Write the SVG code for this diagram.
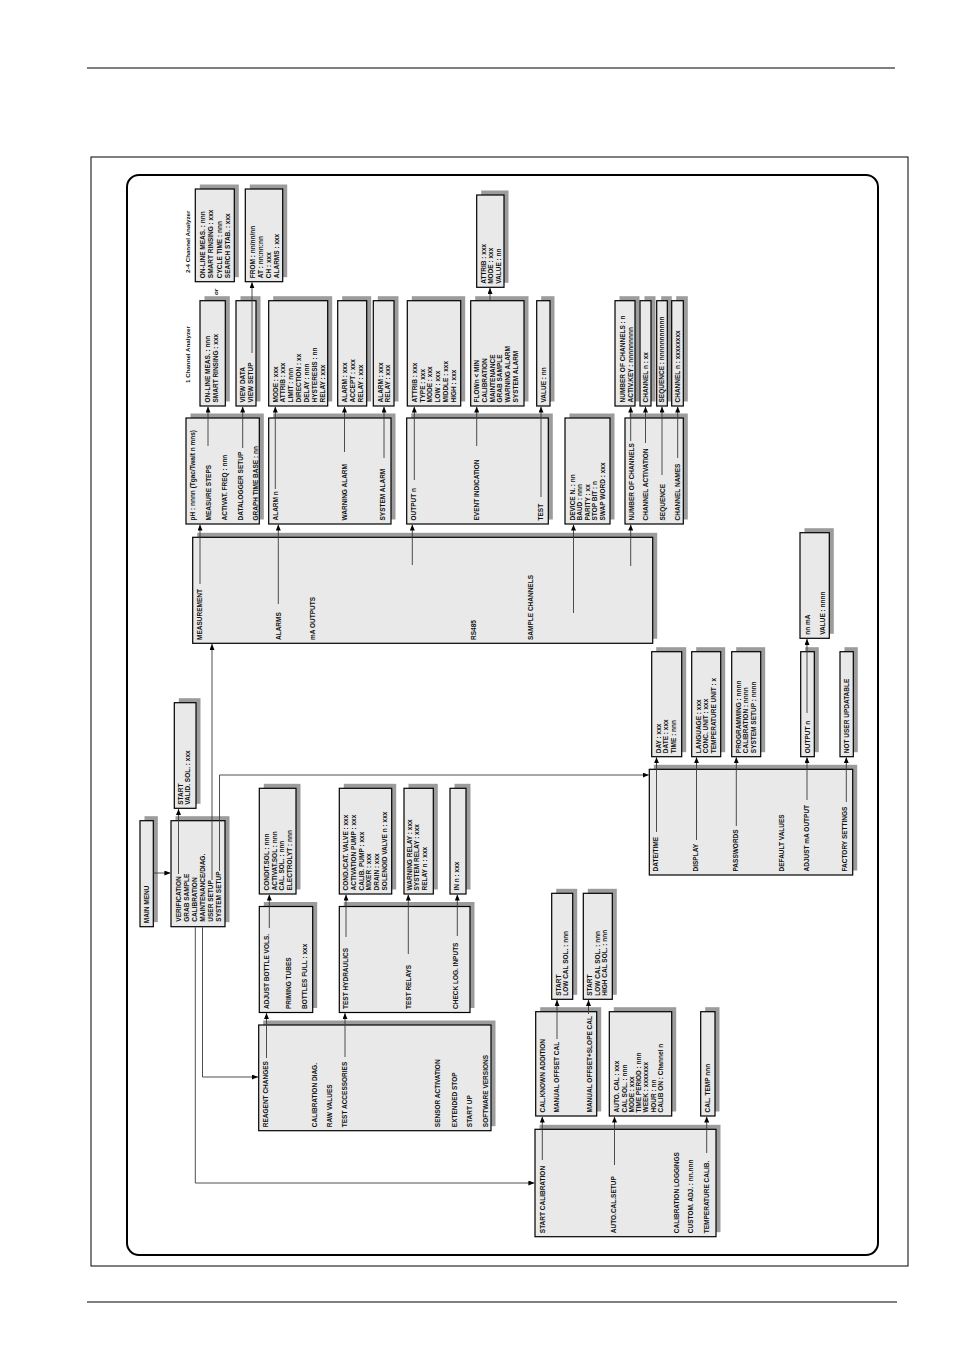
<svg xmlns="http://www.w3.org/2000/svg" width="954" height="1350" viewBox="0 0 954 1350">
<defs>
<marker id="ah" viewBox="0 0 6 5" refX="6" refY="2.5" markerWidth="6" markerHeight="5" markerUnits="userSpaceOnUse" orient="auto"><path d="M0,0 L6,2.5 L0,5 z" fill="#000"/></marker>
</defs>
<style>
.s{fill:#9c9c9c}
.b{fill:#e9e9e9;stroke:#000;stroke-width:1.2}
.t{font-family:"Liberation Sans",Arial,sans-serif;font-size:6.5px;font-weight:bold;fill:#111}
.l{font-family:"Liberation Sans",Arial,sans-serif;font-size:6.2px;font-weight:bold;fill:#111}
.c{fill:none;stroke:#3a3a3a;stroke-width:0.9;marker-end:url(#ah)}
</style>
<rect width="954" height="1350" fill="#fff"/>
<line x1="87" y1="68" x2="895" y2="68" stroke="#000" stroke-width="1"/>
<line x1="87" y1="1302" x2="897" y2="1302" stroke="#000" stroke-width="1"/>
<rect x="91" y="157" width="817" height="1109" fill="none" stroke="#000" stroke-width="1"/>
<rect x="127" y="175" width="751" height="1080" rx="12" fill="none" stroke="#000" stroke-width="2"/>

<text class="l" transform="translate(190.3,273) rotate(-90)">2-4 Channel Analyzer</text>
<text class="l" transform="translate(190.3,383) rotate(-90)">1 Channel Analyzer</text>
<text class="l" font-style="italic" font-weight="normal" transform="translate(217.5,295) rotate(-90)">or</text>

<g id="ch24" transform="translate(195.3,281.7) rotate(-90)"><rect class="s" x="4.5" y="4.5" width="92.7" height="39"/><rect class="b" width="92.7" height="39"/>
<text class="t" x="3.5" y="9.7">ON-LINE MEAS. : nnn</text><text class="t" x="3.5" y="18">SMART RINSING : xxx</text><text class="t" x="3.5" y="26.3">CYCLE TIME : nnn</text><text class="t" x="3.5" y="34.7">SEARCH STAB. : xxx</text></g>

<g id="datalog" transform="translate(245.3,281.7) rotate(-90)"><rect class="s" x="4.5" y="4.5" width="92.7" height="37.4"/><rect class="b" width="92.7" height="37.4"/>
<text class="t" x="3.5" y="9.7">FROM : nn/nn/nn</text><text class="t" x="3.5" y="17.3">AT : nn:nn:nn</text><text class="t" x="3.5" y="25.3">CH : xxx</text><text class="t" x="3.5" y="33.7">ALARMS : xxx</text></g>

<g id="meas1ch" transform="translate(200,406) rotate(-90)"><rect class="s" x="4.5" y="4.5" width="105.3" height="25.3"/><rect class="b" width="105.3" height="25.3"/>
<text class="t" x="3.5" y="10">ON-LINE MEAS. : nnn</text><text class="t" x="3.5" y="17.6">SMART RINSING : xxx</text></g>

<g id="viewdata" transform="translate(236,406) rotate(-90)"><rect class="s" x="4.5" y="4.5" width="105.3" height="20"/><rect class="b" width="105.3" height="20"/>
<text class="t" x="3.5" y="9">VIEW DATA</text><text class="t" x="3.5" y="16.6">VIEW SETUP</text></g>

<g id="alarmn" transform="translate(268.7,406) rotate(-90)"><rect class="s" x="4.5" y="4.5" width="105.3" height="59"/><rect class="b" width="105.3" height="59"/>
<text class="t" x="3.5" y="8.9">MODE : xxx</text><text class="t" x="3.5" y="16.8">ATTRIB : xxx</text><text class="t" x="3.5" y="24.7">LIMIT : nnn</text><text class="t" x="3.5" y="32.6">DIRECTION : xx</text><text class="t" x="3.5" y="40.5">DELAY : nnn</text><text class="t" x="3.5" y="48.4">HYSTERESIS : nn</text><text class="t" x="3.5" y="56.3">RELAY : xxx</text></g>

<g id="warnalarm" transform="translate(337.7,406) rotate(-90)"><rect class="s" x="4.5" y="4.5" width="105.3" height="29"/><rect class="b" width="105.3" height="29"/>
<text class="t" x="3.5" y="8.9">ALARM : xxx</text><text class="t" x="3.5" y="17">ACCEPT : xxx</text><text class="t" x="3.5" y="24.9">RELAY : xxx</text></g>

<g id="sysalarm" transform="translate(373.3,406) rotate(-90)"><rect class="s" x="4.5" y="4.5" width="105.3" height="20.7"/><rect class="b" width="105.3" height="20.7"/>
<text class="t" x="3.5" y="9.5">ALARM : xxx</text><text class="t" x="3.5" y="17">RELAY : xxx</text></g>

<g id="outputn" transform="translate(407.3,406) rotate(-90)"><rect class="s" x="4.5" y="4.5" width="105.3" height="53.4"/><rect class="b" width="105.3" height="53.4"/>
<text class="t" x="3.5" y="9.3">ATTRIB : xxx</text><text class="t" x="3.5" y="17.3">TYPE : xxx</text><text class="t" x="3.5" y="25">MODE : xxx</text><text class="t" x="3.5" y="32.7">LOW : xxx</text><text class="t" x="3.5" y="40.3">MIDDLE : xxx</text><text class="t" x="3.5" y="48.3">HIGH : xxx</text></g>

<g id="event" transform="translate(470.7,406) rotate(-90)"><rect class="s" x="4.5" y="4.5" width="105.3" height="53.3"/><rect class="b" width="105.3" height="53.3"/>
<text class="t" x="3.5" y="8.3">FLOWn &lt; MIN</text><text class="t" x="3.5" y="15.9">CALIBRATION</text><text class="t" x="3.5" y="23.9">MAINTENANCE</text><text class="t" x="3.5" y="31.6">GRAB SAMPLE</text><text class="t" x="3.5" y="39.3">WARNING ALARM</text><text class="t" x="3.5" y="47.3">SYSTEM ALARM</text></g>

<g id="eventattr" transform="translate(476.7,287.3) rotate(-90)"><rect class="s" x="4.5" y="4.5" width="92.3" height="27.3"/><rect class="b" width="92.3" height="27.3"/>
<text class="t" x="3.5" y="8.9">ATTRIB : xxx</text><text class="t" x="3.5" y="16.6">MODE : xxx</text><text class="t" x="3.5" y="23.9">VALUE : nn</text></g>

<g id="testval" transform="translate(536.7,406) rotate(-90)"><rect class="s" x="4.5" y="4.5" width="105.3" height="13.3"/><rect class="b" width="105.3" height="13.3"/>
<text class="t" x="3.5" y="8.9">VALUE : nn</text></g>

<g id="numch" transform="translate(615,406) rotate(-90)"><rect class="s" x="4.5" y="4.5" width="105.3" height="20"/><rect class="b" width="105.3" height="20"/>
<text class="t" x="3.5" y="10">NUMBER OF CHANNELS : n</text><text class="t" x="3.5" y="18">ACTIV.KEY : nnnnnnnnn</text></g>

<g id="chact" transform="translate(640,406) rotate(-90)"><rect class="s" x="4.5" y="4.5" width="105.3" height="11"/><rect class="b" width="105.3" height="11"/>
<text class="t" x="3.5" y="8">CHANNEL n : xx</text></g>

<g id="seq" transform="translate(656.7,406) rotate(-90)"><rect class="s" x="4.5" y="4.5" width="105.3" height="10.6"/><rect class="b" width="105.3" height="10.6"/>
<text class="t" x="3.5" y="7.6">SEQUENCE : nnnnnnnnnnn</text></g>

<g id="chnames" transform="translate(671.7,406) rotate(-90)"><rect class="s" x="4.5" y="4.5" width="105.3" height="11.6"/><rect class="b" width="105.3" height="11.6"/>
<text class="t" x="3.5" y="8.3">CHANNEL n : xxxxxxxx</text></g>

<g id="measurement" transform="translate(186,524) rotate(-90)"><rect class="s" x="4.5" y="4.5" width="106" height="73.3"/><rect class="b" width="106" height="73.3"/>
<text class="t" x="3.5" y="9">pH : nnnn (Tgac/Twait n mns)</text><text class="t" x="3.5" y="24.8">MEASURE STEPS</text><text class="t" x="3.5" y="40.8">ACTIVAT. FREQ : nnn</text><text class="t" x="3.5" y="56.8">DATALOGGER SETUP</text><text class="t" x="3.5" y="72.3">GRAPH TIME BASE : nn</text></g>

<g id="alarms" transform="translate(268.7,524) rotate(-90)"><rect class="s" x="4.5" y="4.5" width="106" height="122.3"/><rect class="b" width="106" height="122.3"/>
<text class="t" x="3.5" y="8.9">ALARM n</text><text class="t" x="3.5" y="78.1">WARNING ALARM</text><text class="t" x="3.5" y="116.6">SYSTEM ALARM</text></g>

<g id="maoutputs" transform="translate(406.7,524) rotate(-90)"><rect class="s" x="4.5" y="4.5" width="106" height="141.6"/><rect class="b" width="106" height="141.6"/>
<text class="t" x="3.5" y="8.9">OUTPUT n</text><text class="t" x="3.5" y="72.3">EVENT INDICATION</text><text class="t" x="3.5" y="136.6">TEST</text></g>

<g id="rs485" transform="translate(565,524) rotate(-90)"><rect class="s" x="4.5" y="4.5" width="106" height="45"/><rect class="b" width="106" height="45"/>
<text class="t" x="3.5" y="10">DEVICE N. : nn</text><text class="t" x="3.5" y="17.3">BAUD : nnn</text><text class="t" x="3.5" y="24.6">PARITY : xx</text><text class="t" x="3.5" y="32.3">STOP BIT : n</text><text class="t" x="3.5" y="39.6">SWAP WORD : xxx</text></g>

<g id="samplech" transform="translate(625,524) rotate(-90)"><rect class="s" x="4.5" y="4.5" width="106" height="58.3"/><rect class="b" width="106" height="58.3"/>
<text class="t" x="3.5" y="9">NUMBER OF CHANNELS</text><text class="t" x="3.5" y="23.3">CHANNEL ACTIVATION</text><text class="t" x="3.5" y="39.6">SEQUENCE</text><text class="t" x="3.5" y="55">CHANNEL NAMES</text></g>

<g id="usersetup" transform="translate(192.7,643.3) rotate(-90)"><rect class="s" x="4.5" y="4.5" width="106" height="460"/><rect class="b" width="106" height="460"/>
<text class="t" x="3.3" y="9.6">MEASUREMENT</text><text class="t" x="3.3" y="87.9">ALARMS</text><text class="t" x="3.3" y="121.9">mA OUTPUTS</text><text class="t" x="3.3" y="283.6">RS485</text><text class="t" x="3.3" y="340.3">SAMPLE CHANNELS</text></g>

<g id="nnma" transform="translate(800,638.3) rotate(-90)"><rect class="s" x="4.5" y="4.5" width="105.6" height="29.3"/><rect class="b" width="105.6" height="29.3"/>
<text class="t" x="3.5" y="9.6">nn mA</text><text class="t" x="3.5" y="25">VALUE : nnnn</text></g>

<g id="day" transform="translate(651.7,756.7) rotate(-90)"><rect class="s" x="4.5" y="4.5" width="105" height="30"/><rect class="b" width="105" height="30"/>
<text class="t" x="3.5" y="8.9">DAY : xxx</text><text class="t" x="3.5" y="16.6">DATE : xxx</text><text class="t" x="3.5" y="23.9">TIME : nnn</text></g>

<g id="language" transform="translate(691.7,756.7) rotate(-90)"><rect class="s" x="4.5" y="4.5" width="105" height="29"/><rect class="b" width="105" height="29"/>
<text class="t" x="3.5" y="8.9">LANGUAGE : xxx</text><text class="t" x="3.5" y="16.6">CONC. UNIT : xxx</text><text class="t" x="3.5" y="23.9">TEMPERATURE UNIT : x</text></g>

<g id="programming" transform="translate(731.7,756.7) rotate(-90)"><rect class="s" x="4.5" y="4.5" width="105" height="29"/><rect class="b" width="105" height="29"/>
<text class="t" x="3.5" y="8.9">PROGRAMMING : nnnn</text><text class="t" x="3.5" y="16.6">CALIBRATION : nnnn</text><text class="t" x="3.5" y="23.9">SYSTEM SETUP : nnnn</text></g>

<g id="adjoutn" transform="translate(800.7,756.7) rotate(-90)"><rect class="s" x="4.5" y="4.5" width="105" height="13.6"/><rect class="b" width="105" height="13.6"/>
<text class="t" x="3.5" y="9.1">OUTPUT n</text></g>

<g id="notuser" transform="translate(840,756.7) rotate(-90)"><rect class="s" x="4.5" y="4.5" width="105" height="13.3"/><rect class="b" width="105" height="13.3"/>
<text class="t" x="3.5" y="9">NOT USER UPDATABLE</text></g>

<g id="verifstart" transform="translate(174.3,808.3) rotate(-90)"><rect class="s" x="4.5" y="4.5" width="105.6" height="21.7"/><rect class="b" width="105.6" height="21.7"/>
<text class="t" x="3.5" y="8.3">START</text><text class="t" x="3.5" y="15.7">VALID. SOL. : xxx</text></g>

<g id="systemsetup" transform="translate(649.3,875) rotate(-90)"><rect class="s" x="4.5" y="4.5" width="105.7" height="203.4"/><rect class="b" width="105.7" height="203.4"/>
<text class="t" x="3.5" y="9">DATE/TIME</text><text class="t" x="3.5" y="49">DISPLAY</text><text class="t" x="3.5" y="89">PASSWORDS</text><text class="t" x="3.5" y="134.7">DEFAULT VALUES</text><text class="t" x="3.5" y="159.7">ADJUST mA OUTPUT</text><text class="t" x="3.5" y="198">FACTORY SETTINGS</text></g>

<g id="condit" transform="translate(259.3,894) rotate(-90)"><rect class="s" x="4.5" y="4.5" width="105.7" height="36.7"/><rect class="b" width="105.7" height="36.7"/>
<text class="t" x="3.5" y="9.7">CONDIT.SOL : nnn</text><text class="t" x="3.5" y="17.3">ACTIVAT.SOL : nnn</text><text class="t" x="3.5" y="25">CAL. SOL. : nnn</text><text class="t" x="3.5" y="32.3">ELECTROLYT : nnn</text></g>

<g id="hydraulics" transform="translate(339.3,894) rotate(-90)"><rect class="s" x="4.5" y="4.5" width="105.7" height="52.4"/><rect class="b" width="105.7" height="52.4"/>
<text class="t" x="3.5" y="9">COND./CAT. VALVE : xxx</text><text class="t" x="3.5" y="16.7">ACTIVATION PUMP : xxx</text><text class="t" x="3.5" y="24.4">CALIB. PUMP : xxx</text><text class="t" x="3.5" y="32.1">MIXER : xxx</text><text class="t" x="3.5" y="39.8">DRAIN : xxx</text><text class="t" x="3.5" y="47.5">SOLENOID VALVE n : xxx</text></g>

<g id="relays" transform="translate(404,894) rotate(-90)"><rect class="s" x="4.5" y="4.5" width="105.7" height="29.3"/><rect class="b" width="105.7" height="29.3"/>
<text class="t" x="3.5" y="7.6">WARNING RELAY : xxx</text><text class="t" x="3.5" y="15">SYSTEM RELAY : xxx</text><text class="t" x="3.5" y="22.6">RELAY n : xxx</text></g>

<g id="inputs" transform="translate(450,894) rotate(-90)"><rect class="s" x="4.5" y="4.5" width="105.7" height="16"/><rect class="b" width="105.7" height="16"/>
<text class="t" x="3.5" y="9">IN n : xxx</text></g>

<g id="mainmenu" transform="translate(140,926.7) rotate(-90)"><rect class="s" x="4.5" y="4.5" width="106" height="13.3"/><rect class="b" width="106" height="13.3"/>
<text class="t" x="3.5" y="9">MAIN MENU</text></g>

<g id="menu" transform="translate(171,926.7) rotate(-90)"><rect class="s" x="4.5" y="4.5" width="106" height="54"/><rect class="b" width="106" height="54"/>
<text class="t" x="5" y="9.8">VERIFICATION</text><text class="t" x="5" y="17.8">GRAB SAMPLE</text><text class="t" x="5" y="25.8">CALIBRATION</text><text class="t" x="5" y="33.8">MAINTENANCE/DIAG.</text><text class="t" x="5" y="41.8">USER SETUP</text><text class="t" x="5" y="49.8">SYSTEM SETUP</text></g>

<g id="reagent" transform="translate(259.3,1012.5) rotate(-90)"><rect class="s" x="4.5" y="4.5" width="106" height="53.4"/><rect class="b" width="106" height="53.4"/>
<text class="t" x="3.5" y="9.7">ADJUST BOTTLE VOLS.</text><text class="t" x="3.5" y="31.7">PRIMING TUBES</text><text class="t" x="3.5" y="48">BOTTLES FULL : xxx</text></g>

<g id="testacc" transform="translate(339.3,1012.5) rotate(-90)"><rect class="s" x="4.5" y="4.5" width="106" height="130.7"/><rect class="b" width="106" height="130.7"/>
<text class="t" x="3.5" y="9">TEST HYDRAULICS</text><text class="t" x="3.5" y="71.3">TEST RELAYS</text><text class="t" x="3.5" y="119">CHECK LOG. INPUTS</text></g>

<g id="offsetcal" transform="translate(551.7,999.3) rotate(-90)"><rect class="s" x="4.5" y="4.5" width="106" height="21"/><rect class="b" width="106" height="21"/>
<text class="t" x="3.5" y="8.9">START</text><text class="t" x="3.5" y="16.3">LOW CAL SOL. : nnn</text></g>

<g id="slopecal" transform="translate(583.3,999.3) rotate(-90)"><rect class="s" x="4.5" y="4.5" width="106" height="29"/><rect class="b" width="106" height="29"/>
<text class="t" x="3.5" y="9">START</text><text class="t" x="3.5" y="16.3">LOW CAL SOL. : nnn</text><text class="t" x="3.5" y="24">HIGH CAL SOL. : nnn</text></g>

<g id="maintenance" transform="translate(258.7,1130.7) rotate(-90)"><rect class="s" x="4.5" y="4.5" width="105.7" height="232.3"/><rect class="b" width="105.7" height="232.3"/>
<text class="t" x="3.5" y="9.6">REAGENT CHANGES</text><text class="t" x="3.5" y="57.9">CALIBRATION DIAG.</text><text class="t" x="3.5" y="72.9">RAW VALUES</text><text class="t" x="3.5" y="88.6">TEST ACCESSORIES</text><text class="t" x="3.5" y="181.6">SENSOR ACTIVATION</text><text class="t" x="3.5" y="198.6">EXTENDED STOP</text><text class="t" x="3.5" y="213.3">START UP</text><text class="t" x="3.5" y="229.6">SOFTWARE VERSIONS</text></g>

<g id="startcal" transform="translate(535.7,1116) rotate(-90)"><rect class="s" x="4.5" y="4.5" width="104.3" height="61"/><rect class="b" width="104.3" height="61"/>
<text class="t" x="3.5" y="8.9">CAL.KNOWN ADDITION</text><text class="t" x="3.5" y="23.3">MANUAL OFFSET CAL</text><text class="t" x="3.5" y="56.6">MANUAL OFFSET+SLOPE CAL</text></g>

<g id="autocal" transform="translate(609.3,1116) rotate(-90)"><rect class="s" x="4.5" y="4.5" width="104.3" height="62.4"/><rect class="b" width="104.3" height="62.4"/>
<text class="t" x="3.5" y="9.7">AUTO. CAL : xxx</text><text class="t" x="3.5" y="17.3">CAL SOL. : nnn</text><text class="t" x="3.5" y="24.5">MODE : xxx</text><text class="t" x="3.5" y="31.7">TIME PERIOD : nnn</text><text class="t" x="3.5" y="39">WEEK : xxxxxxx</text><text class="t" x="3.5" y="46.3">HOUR : nn</text><text class="t" x="3.5" y="53.7">CALIB ON : Channel n</text></g>

<g id="caltemp" transform="translate(700.7,1116) rotate(-90)"><rect class="s" x="4.5" y="4.5" width="104.3" height="14.3"/><rect class="b" width="104.3" height="14.3"/>
<text class="t" x="3.5" y="8.9">CAL. TEMP nnn</text></g>

<g id="calibration" transform="translate(535,1236.7) rotate(-90)"><rect class="s" x="4.5" y="4.5" width="107.4" height="181"/><rect class="b" width="107.4" height="181"/>
<text class="t" x="3.5" y="10">START CALIBRATION</text><text class="t" x="3.5" y="80.6">AUTO.CAL.SETUP</text><text class="t" x="3.5" y="144">CALIBRATION LOGGINGS</text><text class="t" x="3.5" y="158.3">CUSTOM. ADJ. : nn.nnn</text><text class="t" x="3.5" y="174">TEMPERATURE CALIB.</text></g>

<g id="connectors">
<path class="c" d="M153.3,873 H170.4"/>
<path class="c" d="M178.5,874 V809"/>
<path class="c" d="M195.3,927.3 V1183 H534.4"/>
<path class="c" d="M202.5,927.3 V1077 H258"/>
<path class="c" d="M212,880 V644"/>
<path class="c" d="M219.5,871 V775 H648.7"/>
<path class="c" d="M200,584 V524.6"/>
<path class="c" d="M278.3,604 V524.6"/>
<path class="c" d="M412.3,565 V524.6"/>
<path class="c" d="M573.5,613 V524.6"/>
<path class="c" d="M630.7,566 V524.6"/>
<path class="c" d="M208,446 V406.6"/>
<path class="c" d="M242.7,448 V406.6"/>
<path class="c" d="M252,353 V282.3"/>
<path class="c" d="M275.3,489 V406.6"/>
<path class="c" d="M344.5,452 V406.6"/>
<path class="c" d="M384,458 V406.6"/>
<path class="c" d="M414.3,480 V406.6"/>
<path class="c" d="M476.7,446 V406.6"/>
<path class="c" d="M541,497 V406.6"/>
<path class="c" d="M490,300.1 V287.9"/>
<path class="c" d="M630.7,441 V406.6"/>
<path class="c" d="M645.5,443 V406.6"/>
<path class="c" d="M662,475 V406.6"/>
<path class="c" d="M677.7,458 V406.6"/>
<path class="c" d="M266.5,1058 V1013.1"/>
<path class="c" d="M345,1057 V1013.1"/>
<path class="c" d="M269.3,928 V894.6"/>
<path class="c" d="M346,937 V894.6"/>
<path class="c" d="M408.3,954 V894.6"/>
<path class="c" d="M457.3,936 V894.6"/>
<path class="c" d="M542.3,1160 V1116.6"/>
<path class="c" d="M614.5,1165 V1116.6"/>
<path class="c" d="M706.7,1153 V1116.6"/>
<path class="c" d="M557,1039 V999.9"/>
<path class="c" d="M588.5,1014 V999.9"/>
<path class="c" d="M656.5,832 V757.3"/>
<path class="c" d="M696.5,840 V757.3"/>
<path class="c" d="M736.3,826 V757.3"/>
<path class="c" d="M807,800 V757.3"/>
<path class="c" d="M846.3,802 V757.3"/>
<path class="c" d="M807,713 V638.9"/>
</g>
</svg>
